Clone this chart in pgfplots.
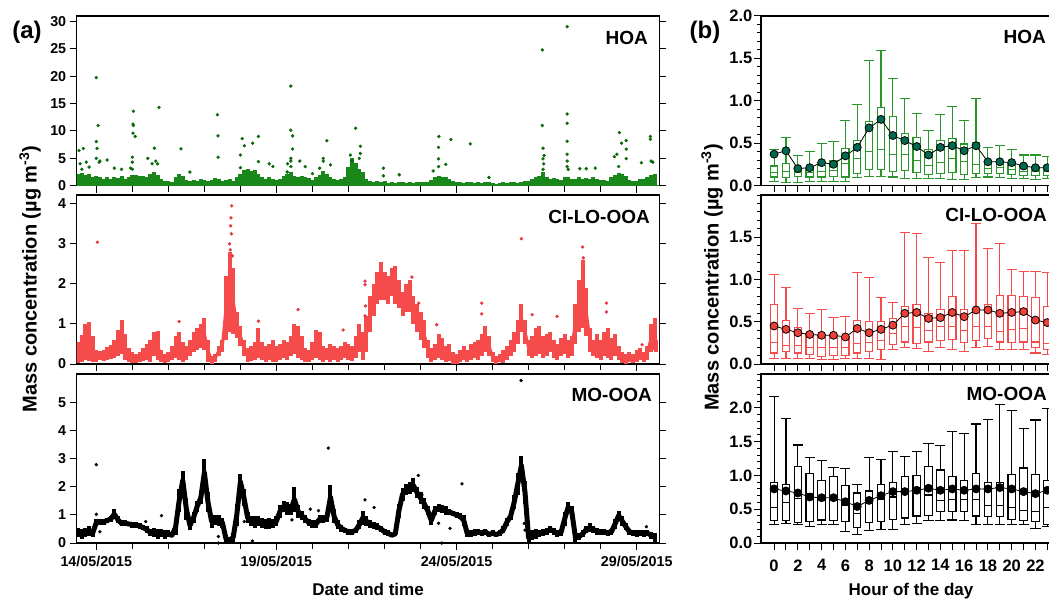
\documentclass[border=0pt]{standalone}
\usepackage{fontspec}
\setmainfont{Liberation Sans}
\usepackage{pgfplots}
\pgfplotsset{compat=1.18}
\usepackage{pgfplotstable}
\usepgfplotslibrary{statistics}

\definecolor{hoag}{RGB}{25,135,25}
\definecolor{hoadark}{RGB}{10,105,10}
\definecolor{cir}{RGB}{245,75,75}
\definecolor{cidark}{RGB}{230,55,70}
\definecolor{hoabox}{RGB}{40,150,40}
\definecolor{hoamean}{RGB}{0,105,80}
\definecolor{cimean}{RGB}{235,65,55}

\pgfplotstableread{
x lo hi
13.5 0.0 2.2
13.6 0.0 2.4
13.7 0.1 2.0
13.8 0.0 2.1
13.9 0.1 1.5
14.0 0.0 1.8
14.1 0.1 1.6
14.2 0.1 1.3
14.3 0.0 1.5
14.4 0.1 1.2
14.5 0.2 1.6
14.6 0.1 1.4
14.7 0.2 1.7
14.8 0.1 1.3
14.9 0.2 1.5
15.0 0.1 1.9
15.1 0.2 2.0
15.2 0.1 1.7
15.3 0.2 1.8
15.4 0.1 1.5
15.5 0.1 2.2
15.6 0.2 2.5
15.7 0.1 2.0
15.8 0.1 1.2
15.9 0.1 0.8
16.0 0.2 0.9
16.1 0.1 0.7
16.2 0.2 1.5
16.3 0.1 2.2
16.4 0.2 1.8
16.5 0.1 1.0
16.6 0.2 0.8
16.7 0.1 1.0
16.8 0.2 0.9
16.9 0.1 1.2
17.0 0.2 1.0
17.1 0.1 0.8
17.2 0.2 1.1
17.3 0.1 1.4
17.4 0.2 1.2
17.5 0.1 0.9
17.6 0.2 1.0
17.7 0.1 1.3
17.8 0.2 0.9
17.9 0.1 1.5
18.0 0.1 2.2
18.1 0.0 2.8
18.2 0.1 3.0
18.3 0.0 2.6
18.4 0.1 2.8
18.5 0.1 2.2
18.6 0.2 1.5
18.7 0.1 1.2
18.8 0.2 1.5
18.9 0.1 1.2
19.0 0.2 1.0
19.1 0.1 1.3
19.2 0.2 1.7
19.3 0.1 2.2
19.4 0.1 2.5
19.5 0.2 1.8
19.6 0.1 1.6
19.7 0.2 1.7
19.8 0.1 1.5
19.9 0.2 1.4
20.0 0.1 1.1
20.1 0.2 1.5
20.2 0.1 2.0
20.3 0.1 2.6
20.4 0.2 2.2
20.5 0.1 1.6
20.6 0.2 1.2
20.7 0.1 1.0
20.8 0.2 1.2
20.9 0.1 1.5
21.0 0.1 3.5
21.1 0.2 5.0
21.2 0.1 4.2
21.3 0.2 3.0
21.4 0.1 2.5
21.5 0.2 1.2
21.6 0.1 0.8
21.7 0.2 0.6
21.8 0.1 0.9
21.9 0.2 0.7
22.0 0.1 0.8
22.1 0.2 0.5
22.2 0.1 0.6
22.3 0.2 0.5
22.4 0.1 0.7
22.5 0.2 0.6
22.6 0.1 0.5
22.7 0.2 0.6
22.8 0.1 0.5
22.9 0.2 0.6
23.0 0.1 0.7
23.1 0.2 0.6
23.2 0.1 0.7
23.3 0.2 1.0
23.4 0.1 1.5
23.5 0.2 1.8
23.6 0.1 1.6
23.7 0.2 1.5
23.8 0.1 1.3
23.9 0.2 0.8
24.0 0.1 0.6
24.1 0.2 0.7
24.2 0.1 0.5
24.3 0.2 0.6
24.4 0.1 0.7
24.5 0.2 0.5
24.6 0.1 0.6
24.7 0.2 0.5
24.8 0.1 0.6
24.9 0.2 0.7
25.0 0.1 0.5
25.1 0.2 0.4
25.2 0.1 0.5
25.3 0.2 0.6
25.4 0.1 0.5
25.5 0.2 0.6
25.6 0.1 0.7
25.7 0.2 0.5
25.8 0.1 0.6
25.9 0.2 0.8
26.0 0.1 0.9
26.1 0.2 1.2
26.2 0.1 1.5
26.3 0.2 1.8
26.4 0.1 2.5
26.5 0.2 1.6
26.6 0.1 1.3
26.7 0.2 1.4
26.8 0.1 1.2
26.9 0.2 1.0
27.0 0.1 1.5
27.1 0.2 1.6
27.2 0.1 1.3
27.3 0.2 1.2
27.4 0.1 1.5
27.5 0.2 1.3
27.6 0.1 1.4
27.7 0.2 1.2
27.8 0.1 1.5
27.9 0.2 1.2
28.0 0.1 1.0
28.1 0.2 1.1
28.2 0.1 0.9
28.3 0.2 1.6
28.4 0.1 2.0
28.5 0.1 2.4
28.6 0.2 2.2
28.7 0.1 1.8
28.8 0.2 1.0
28.9 0.1 0.8
29.0 0.2 0.9
29.1 0.1 1.2
29.2 0.2 1.3
29.3 0.1 1.6
29.4 0.1 2.0
29.5 0.0 2.2
}\hoaTS

\pgfplotstableread{
x y
13.52 6.42
13.64 6.79
13.55 4.0
13.72 4.3
13.6 3.0
13.8 3.4
14.0 19.75
14.05 11.0
14.0 8.07
14.02 6.8
14.0 5.0
14.1 4.5
14.08 4.3
14.3 4.7
14.5 3.2
14.7 3.0
14.95 3.2
15.03 13.6
15.02 11.25
15.03 11.0
15.02 9.6
15.08 9.0
15.0 5.2
15.0 4.3
15.0 3.0
15.43 5.0
15.55 4.0
15.61 6.85
15.65 4.5
15.7 4.0
15.74 14.3
16.35 6.73
16.6 2.5
17.36 12.97
17.38 9.1
17.38 5.2
18.05 8.6
18.11 7.3
18.0 5.6
18.0 3.3
18.34 7.77
18.5 9.0
18.5 4.4
18.8 4.0
18.9 3.5
19.31 4.0
19.3 2.5
19.4 18.2
19.4 10.15
19.45 9.1
19.45 6.7
19.4 5.0
19.4 4.5
19.4 3.5
19.65 4.5
19.8 3.5
20.0 2.2
20.4 8.2
20.3 5.0
20.3 4.5
20.2 3.2
20.5 3.8
21.05 5.6
21.1 4.5
21.2 10.5
21.33 7.2
21.33 5.9
21.3 5.0
21.97 3.2
21.97 1.8
22.41 2.0
23.51 9.0
23.5 7.0
23.5 4.9
23.5 3.5
23.35 2.7
23.7 3.9
23.84 8.44
24.38 7.65
24.9 1.5
26.38 24.8
26.38 11.0
26.4 6.85
26.43 5.5
26.42 4.0
26.4 4.9
26.4 3.0
27.07 29.05
27.07 13.1
27.07 11.4
27.07 8.13
27.07 5.75
27.07 4.5
27.07 3.5
27.1 3.0
27.42 3.1
27.6 3.1
27.85 3.2
28.52 9.7
28.58 7.77
28.71 8.25
28.45 5.75
28.38 5.3
28.71 6.67
28.71 4.95
28.5 3.5
29.13 4.2
29.38 9.0
29.38 8.5
29.4 4.5
29.45 4.3
}\hoaOut

\pgfplotstableread{
x lo hi
13.5 0.02 0.55
13.6 0.05 0.72
13.7 0.10 1.00
13.8 0.08 1.05
13.9 0.05 0.70
14.0 0.05 0.35
14.1 0.10 0.32
14.2 0.08 0.35
14.3 0.10 0.42
14.4 0.12 0.48
14.5 0.15 0.60
14.6 0.20 0.85
14.7 0.25 1.10
14.8 0.10 0.75
14.9 0.05 0.40
15.0 0.03 0.30
15.1 0.02 0.25
15.2 0.05 0.30
15.3 0.08 0.40
15.4 0.10 0.50
15.5 0.05 0.60
15.6 0.20 0.80
15.7 0.10 0.82
15.8 0.05 0.35
15.9 0.02 0.25
16.0 0.05 0.30
16.1 0.10 0.45
16.2 0.15 0.70
16.3 0.10 0.80
16.4 0.05 0.55
16.5 0.10 0.45
16.6 0.20 0.60
16.7 0.30 0.80
16.8 0.35 0.90
16.9 0.40 1.00
17.0 0.35 1.15
17.1 0.05 0.60
17.2 0.00 0.20
17.3 0.05 0.25
17.4 0.20 0.45
17.5 0.30 0.60
17.6 0.60 2.20
17.7 0.80 2.80
17.8 0.75 2.40
17.9 0.65 1.30
18.0 0.45 0.95
18.1 0.20 0.60
18.2 0.05 0.40
18.3 0.08 0.45
18.4 0.10 0.55
18.5 0.15 0.90
18.6 0.10 0.55
18.7 0.05 0.45
18.8 0.10 0.50
18.9 0.05 0.60
19.0 0.05 0.45
19.1 0.10 0.50
19.2 0.15 0.60
19.3 0.10 0.55
19.4 0.20 0.70
19.5 0.25 1.00
19.6 0.15 0.95
19.7 0.10 0.70
19.8 0.05 0.40
19.9 0.05 0.35
20.0 0.10 0.55
20.1 0.15 0.85
20.2 0.10 0.80
20.3 0.05 0.45
20.4 0.10 0.40
20.5 0.05 0.50
20.6 0.10 0.45
20.7 0.05 0.40
20.8 0.10 0.45
20.9 0.15 0.55
21.0 0.10 0.50
21.1 0.08 0.45
21.2 0.15 0.70
21.3 0.30 1.00
21.4 0.10 0.80
21.5 0.30 1.20
21.6 0.80 1.70
21.7 1.20 2.00
21.8 1.50 2.30
21.9 1.60 2.55
22.0 1.60 2.30
22.1 1.50 2.20
22.2 1.70 2.40
22.3 1.50 2.45
22.4 1.40 2.10
22.5 1.20 1.80
22.6 1.30 2.00
22.7 1.30 2.10
22.8 1.00 1.70
22.9 0.80 1.50
23.0 0.60 1.30
23.1 0.40 1.10
23.2 0.15 0.60
23.3 0.05 0.40
23.4 0.10 0.50
23.5 0.15 0.75
23.6 0.10 0.65
23.7 0.05 0.45
23.8 0.08 0.50
23.9 0.00 0.30
24.0 0.00 0.25
24.1 0.05 0.35
24.2 0.10 0.45
24.3 0.05 0.35
24.4 0.10 0.50
24.5 0.15 0.55
24.6 0.10 0.60
24.7 0.20 0.75
24.8 0.30 0.95
24.9 0.20 0.70
25.0 0.05 0.30
25.1 0.00 0.20
25.2 0.05 0.25
25.3 0.02 0.35
25.4 0.10 0.45
25.5 0.20 0.60
25.6 0.30 0.80
25.7 0.50 1.10
25.8 0.80 1.50
25.9 0.50 1.10
26.0 0.20 0.60
26.1 0.15 0.70
26.2 0.20 0.90
26.3 0.25 0.95
26.4 0.15 0.70
26.5 0.20 0.75
26.6 0.30 0.80
26.7 0.15 0.60
26.8 0.10 0.50
26.9 0.20 0.65
27.0 0.25 0.75
27.1 0.15 0.60
27.2 0.20 0.70
27.3 0.50 1.50
27.4 0.80 2.10
27.5 0.90 2.60
27.6 0.70 1.90
27.7 0.30 0.90
27.8 0.20 0.60
27.9 0.15 0.75
28.0 0.10 0.60
28.1 0.20 0.80
28.2 0.15 0.90
28.3 0.10 0.65
28.4 0.20 0.75
28.5 0.10 0.45
28.6 0.02 0.30
28.7 0.00 0.25
28.8 0.05 0.30
28.9 0.02 0.25
29.0 0.05 0.35
29.1 0.10 0.40
29.2 0.05 0.30
29.3 0.10 0.45
29.4 0.30 1.00
29.5 0.35 1.15
29.55 0.30 0.60
}\ciTS

\pgfplotstableread{
x y
14.03 3.04
17.76 3.95
17.74 3.65
17.73 3.45
17.75 3.25
17.70 3.00
17.72 2.85
17.78 2.70
16.30 1.06
18.50 1.07
19.60 1.36
20.85 0.85
21.46 2.07
21.46 1.98
21.47 1.45
21.46 1.20
22.76 2.17
22.95 1.52
23.45 0.98
24.70 1.52
24.70 1.25
25.80 3.13
26.10 1.23
26.79 1.19
27.50 2.92
27.52 2.65
28.16 1.52
28.16 1.30
29.15 0.48
}\ciOut

\pgfplotstableread{
x lo hi
13.5 0.20 0.55
13.6 0.15 0.50
13.7 0.20 0.55
13.8 0.25 0.60
13.9 0.20 0.50
14.0 0.60 0.85
14.1 0.65 0.85
14.2 0.65 0.85
14.3 0.70 0.90
14.4 0.75 0.95
14.5 0.85 1.20
14.6 0.70 0.95
14.7 0.60 0.80
14.8 0.60 0.80
14.9 0.60 0.75
15.0 0.55 0.75
15.1 0.55 0.75
15.2 0.50 0.70
15.3 0.45 0.65
15.4 0.35 0.60
15.5 0.25 0.50
15.6 0.20 0.55
15.7 0.15 0.50
15.8 0.20 0.50
15.9 0.15 0.45
16.0 0.20 0.45
16.1 0.20 0.35
16.2 0.30 0.80
16.3 1.10 1.90
16.4 1.90 2.55
16.5 0.80 1.60
16.6 0.45 0.80
16.7 0.70 1.10
16.8 1.10 1.50
16.9 1.40 1.80
17.0 2.00 3.00
17.1 1.10 1.80
17.2 0.55 1.00
17.3 0.65 1.00
17.4 0.60 1.00
17.5 0.55 0.90
17.6 0.00 0.30
17.7 0.00 0.20
17.8 0.05 0.35
17.9 0.60 1.40
18.0 1.90 2.45
18.1 1.30 1.90
18.2 0.70 1.10
18.3 0.60 0.95
18.4 0.55 0.95
18.5 0.60 0.95
18.6 0.55 0.90
18.7 0.50 0.85
18.8 0.50 0.90
18.9 0.55 0.85
19.0 0.60 0.95
19.1 0.90 1.35
19.2 1.10 1.50
19.3 1.00 1.45
19.4 1.00 1.40
19.5 1.10 2.00
19.6 0.90 1.35
19.7 0.80 1.15
19.8 0.70 1.00
19.9 0.60 0.85
20.0 0.55 0.80
20.1 0.55 0.80
20.2 0.70 1.00
20.3 0.70 1.00
20.4 0.75 1.05
20.5 1.20 2.05
20.6 0.70 1.20
20.7 0.50 0.80
20.8 0.40 0.65
20.9 0.35 0.55
21.0 0.30 0.50
21.1 0.30 0.50
21.2 0.35 0.55
21.3 0.50 0.80
21.4 0.65 1.15
21.5 0.60 0.95
21.6 0.55 0.80
21.7 0.50 0.75
21.8 0.45 0.70
21.9 0.40 0.60
22.0 0.30 0.50
22.1 0.25 0.45
22.2 0.20 0.35
22.3 0.25 0.40
22.4 0.90 1.40
22.5 1.50 1.95
22.6 1.70 2.10
22.7 1.75 2.15
22.8 1.80 2.30
22.9 1.60 2.00
23.0 1.40 1.80
23.1 1.20 1.60
23.2 1.00 1.30
23.3 0.65 0.95
23.4 1.00 1.30
23.5 1.10 1.40
23.6 1.05 1.35
23.7 1.00 1.30
23.8 1.00 1.20
23.9 0.95 1.15
24.0 0.90 1.10
24.1 0.85 1.05
24.2 0.60 1.00
24.3 0.20 0.45
24.4 0.20 0.45
24.5 0.25 0.50
24.6 0.30 0.50
24.7 0.25 0.45
24.8 0.30 0.50
24.9 0.20 0.40
25.0 0.25 0.45
25.1 0.20 0.40
25.2 0.25 0.45
25.3 0.35 0.60
25.4 0.60 0.90
25.5 0.80 1.10
25.6 1.20 1.70
25.7 1.70 2.50
25.8 2.40 3.10
25.9 1.40 2.20
26.0 0.05 0.30
26.1 0.10 0.45
26.2 0.15 0.50
26.3 0.20 0.45
26.4 0.25 0.50
26.5 0.30 0.55
26.6 0.35 0.60
26.7 0.30 0.55
26.8 0.20 0.45
26.9 0.25 0.50
27.0 0.60 1.10
27.1 1.10 1.45
27.2 0.90 1.30
27.3 0.05 0.35
27.4 0.10 0.35
27.5 0.20 0.45
27.6 0.35 0.60
27.7 0.40 0.70
27.8 0.35 0.60
27.9 0.30 0.55
28.0 0.30 0.50
28.1 0.30 0.50
28.2 0.25 0.45
28.3 0.30 0.50
28.4 0.50 0.85
28.5 0.80 1.15
28.6 0.60 0.95
28.7 0.45 0.70
28.8 0.30 0.50
28.9 0.25 0.45
29.0 0.20 0.45
29.1 0.25 0.45
29.2 0.20 0.45
29.3 0.25 0.45
29.4 0.15 0.40
29.5 0.05 0.35
}\moTS

\pgfplotstableread{
x y
14.00 2.78
14.00 1.02
14.10 0.40
15.37 0.76
15.81 0.97
17.39 0.23
17.39 0.00
18.11 0.76
18.33 0.07
19.43 0.82
19.70 0.94
19.94 1.20
20.17 1.15
20.44 3.37
21.46 1.53
21.71 1.26
22.94 2.40
23.04 1.71
23.50 0.70
23.59 0.00
23.82 0.52
24.15 2.10
25.79 5.77
25.88 0.70
25.90 0.46
27.25 0.62
29.27 0.58
}\moOut

\pgfplotstableread{
h lw q1 med q3 uw mean
0 0.05 0.10 0.15 0.23 0.43 0.37
1 0.04 0.09 0.16 0.26 0.57 0.41
2 0.04 0.11 0.15 0.20 0.35 0.20
3 0.05 0.10 0.15 0.20 0.40 0.21
4 0.05 0.10 0.16 0.24 0.50 0.27
5 0.05 0.11 0.18 0.30 0.52 0.25
6 0.05 0.10 0.26 0.44 0.77 0.35
7 0.09 0.14 0.32 0.53 0.96 0.45
8 0.11 0.19 0.40 0.75 1.47 0.68
9 0.11 0.19 0.42 0.92 1.59 0.78
10 0.10 0.16 0.37 0.81 1.26 0.59
11 0.08 0.18 0.37 0.61 1.03 0.53
12 0.08 0.15 0.30 0.57 0.85 0.46
13 0.08 0.13 0.24 0.43 0.65 0.36
14 0.08 0.14 0.27 0.53 0.84 0.45
15 0.07 0.15 0.32 0.55 0.93 0.47
16 0.07 0.13 0.28 0.49 0.77 0.41
17 0.09 0.14 0.25 0.51 1.03 0.47
18 0.10 0.14 0.20 0.26 0.45 0.28
19 0.09 0.14 0.21 0.27 0.47 0.28
20 0.08 0.13 0.19 0.26 0.43 0.27
21 0.08 0.12 0.17 0.22 0.36 0.23
22 0.07 0.12 0.17 0.22 0.36 0.21
23 0.08 0.12 0.16 0.24 0.34 0.21
}\hoaD

\pgfplotstableread{
h lw q1 med q3 uw mean
0 0.06 0.13 0.25 0.70 1.06 0.45
1 0.07 0.15 0.22 0.51 0.91 0.41
2 0.07 0.13 0.22 0.43 0.66 0.37
3 0.06 0.11 0.20 0.36 0.60 0.35
4 0.05 0.09 0.19 0.35 0.65 0.34
5 0.05 0.10 0.19 0.34 0.55 0.34
6 0.06 0.10 0.19 0.32 0.56 0.32
7 0.07 0.13 0.24 0.52 1.08 0.42
8 0.07 0.15 0.25 0.50 1.02 0.37
9 0.05 0.17 0.28 0.50 0.79 0.41
10 0.17 0.23 0.36 0.54 0.73 0.46
11 0.19 0.26 0.44 0.68 1.56 0.60
12 0.18 0.24 0.43 0.70 1.54 0.61
13 0.15 0.26 0.40 0.60 1.26 0.54
14 0.19 0.28 0.44 0.64 1.20 0.55
15 0.17 0.29 0.44 0.80 1.34 0.61
16 0.15 0.25 0.40 0.64 1.34 0.56
17 0.20 0.28 0.44 0.66 1.66 0.64
18 0.21 0.30 0.44 0.70 1.37 0.64
19 0.17 0.26 0.38 0.81 1.43 0.60
20 0.17 0.25 0.41 0.81 1.12 0.61
21 0.17 0.26 0.42 0.80 1.09 0.62
22 0.13 0.20 0.26 0.79 1.10 0.52
23 0.11 0.17 0.24 0.68 1.08 0.49
}\ciD

\pgfplotstableread{
h lw q1 med q3 uw mean
0 0.28 0.33 0.53 0.90 2.17 0.80
1 0.29 0.33 0.60 0.87 1.84 0.77
2 0.27 0.30 0.66 1.13 1.45 0.74
3 0.24 0.32 0.73 1.03 1.26 0.68
4 0.28 0.34 0.69 0.93 1.22 0.67
5 0.27 0.33 0.65 0.98 1.12 0.67
6 0.17 0.32 0.55 0.85 1.10 0.61
7 0.13 0.23 0.44 0.74 0.86 0.54
8 0.19 0.30 0.59 0.77 1.27 0.63
9 0.20 0.32 0.64 0.86 1.23 0.70
10 0.20 0.35 0.68 0.90 1.36 0.76
11 0.27 0.37 0.73 0.98 1.28 0.76
12 0.29 0.40 0.78 1.00 1.36 0.78
13 0.33 0.41 0.71 1.13 1.47 0.81
14 0.33 0.46 0.63 1.08 1.44 0.78
15 0.34 0.46 0.65 0.98 1.65 0.80
16 0.33 0.47 0.64 0.92 1.62 0.78
17 0.28 0.40 0.65 1.03 1.76 0.80
18 0.27 0.39 0.55 0.90 1.83 0.80
19 0.28 0.39 0.55 0.90 2.05 0.82
20 0.28 0.35 0.52 1.01 1.96 0.80
21 0.28 0.33 0.48 1.11 1.70 0.76
22 0.22 0.32 0.46 1.02 1.82 0.73
23 0.24 0.28 0.52 0.92 1.99 0.78
}\moD

\pgfplotsset{
  common/.style={scale only axis, axis line style={line width=1.1pt},
    tick style={black, line width=1pt}, tick align=outside, xtick pos=left},
  tsax/.style={common, width=582.6pt, xmin=13.456, xmax=29.628,
    xtick={14,19,24,29}, minor x tick num=4, ytick pos=both, yticklabel pos=left,
    major tick length=7pt, minor tick length=6pt,
    tick label style={font=\fontsize{14.3}{16}\selectfont\bfseries},
    xticklabel style={yshift=-3pt},
    xticklabels={}},
  hrax/.style={common, width=298.2pt, xmin=-1.1, xmax=24,
    xtick={0,...,23}, xticklabels={}, ytick pos=left,
    major tick length=7pt, minor tick length=4pt,
    tick label style={font=\fontsize{16.5}{18}\selectfont\bfseries},
    xticklabel style={yshift=-6pt},
    yticklabel style={inner sep=1.5pt}},
  bx/.style={line width=1.1pt, boxplot/draw direction=y,
    boxplot/box extend=0.62, boxplot/whisker extend=0.85},
  band/.style={#1, draw=none, mark=none, error bars/.cd, y dir=both, y explicit,
    error mark=none, error bar style={line width=4pt, draw=#1}},
}

\newcommand\boxes[2]{%
  \pgfplotsinvokeforeach{0,...,23}{%
    \pgfplotstablegetelem{##1}{lw}\of{#1}\edef\bLW{\pgfplotsretval}%
    \pgfplotstablegetelem{##1}{q1}\of{#1}\edef\bQA{\pgfplotsretval}%
    \pgfplotstablegetelem{##1}{med}\of{#1}\edef\bMD{\pgfplotsretval}%
    \pgfplotstablegetelem{##1}{q3}\of{#1}\edef\bQB{\pgfplotsretval}%
    \pgfplotstablegetelem{##1}{uw}\of{#1}\edef\bUW{\pgfplotsretval}%
    \edef\bCmd{\noexpand\addplot[#2, bx,
      boxplot/every box/.style={draw=#2},
      boxplot/every whisker/.style={draw=#2},
      boxplot/every median/.style={draw=#2},
      boxplot prepared={draw position=##1,
      lower whisker=\bLW, lower quartile=\bQA, median=\bMD,
      upper quartile=\bQB, upper whisker=\bUW}] coordinates {};}%
    \bCmd
  }%
}

\begin{document}
\begin{tikzpicture}

% ---------- (a) HOA
\begin{axis}[tsax, at={(76.7pt,412.3pt)}, anchor=south west, height=169.7pt,
  ymin=0, ymax=31, ytick={0,5,...,30}, yticklabels={0,5,10,15,20,25,30}]
\addplot[band=hoag] table[x=x, y expr={(\thisrow{lo}+\thisrow{hi})/2},
  y error expr={(\thisrow{hi}-\thisrow{lo})/2}]{\hoaTS};
\addplot[hoag, line width=1.4pt] coordinates {(13.3,0) (29.8,0)};
\addplot[only marks, mark=*, mark size=1.5pt, hoadark] table[x=x,y=y]{\hoaOut};
\end{axis}

% ---------- (a) CI-LO-OOA
\begin{axis}[tsax, at={(76.7pt,234pt)}, anchor=south west, height=169pt,
  ymin=0, ymax=4.22, ytick={0,1,2,3,4}, yticklabels={0,1,2,3,4}]
\addplot[band=cir] table[x=x, y expr={(\thisrow{lo}+\thisrow{hi})/2},
  y error expr={(\thisrow{hi}-\thisrow{lo})/2}]{\ciTS};
\addplot[cir, line width=3pt] table[x=x, y expr={(\thisrow{lo}+\thisrow{hi})/2}]{\ciTS};
\addplot[only marks, mark=*, mark size=1.5pt, cidark] table[x=x,y=y]{\ciOut};
\end{axis}

% ---------- (a) MO-OOA
\begin{axis}[tsax, at={(76.7pt,55pt)}, anchor=south west, height=169pt,
  ymin=0, ymax=6, ytick={0,1,2,3,4,5}, yticklabels={0,1,2,3,4,5},
  xticklabels={14/05/2015,19/05/2015,24/05/2015,29/05/2015}]
\addplot[band=black] table[x=x, y expr={(\thisrow{lo}+\thisrow{hi})/2},
  y error expr={(\thisrow{hi}-\thisrow{lo})/2}]{\moTS};
\addplot[black, line width=5pt, line join=round] table[x=x, y expr={(\thisrow{lo}+\thisrow{hi})/2}]{\moTS};
\addplot[only marks, mark=*, mark size=1.5pt, black] table[x=x,y=y]{\moOut};
\end{axis}

% ---------- (b) HOA
\begin{axis}[hrax, at={(761pt,412.5pt)}, anchor=south west, height=169.5pt,
  ymin=0, ymax=2, ytick={0,0.5,1,1.5,2}, yticklabels={0.0,0.5,1.0,1.5,2.0},
  minor ytick={0,0.1,...,2.0}]
\boxes{\hoaD}{hoabox}
\addplot[black, line width=0.8pt, mark=*, mark size=4pt,
  mark options={fill=hoamean, draw=black, line width=0.8pt}] table[x=h,y=mean]{\hoaD};
\end{axis}

% ---------- (b) CI-LO-OOA
\begin{axis}[hrax, at={(761pt,234pt)}, anchor=south west, height=169pt,
  ymin=0, ymax=2, ytick={0,0.5,1,1.5}, yticklabels={0.0,0.5,1.0,1.5},
  minor ytick={0,0.1,...,2.0}]
\boxes{\ciD}{cir}
\addplot[black, line width=0.8pt, mark=*, mark size=4pt,
  mark options={fill=cimean, draw=black, line width=0.8pt}] table[x=h,y=mean]{\ciD};
\end{axis}

% ---------- (b) MO-OOA
\begin{axis}[hrax, at={(761pt,55pt)}, anchor=south west, height=169pt,
  ymin=0, ymax=2.5, ytick={0,0.5,1,1.5,2}, yticklabels={0.0,0.5,1.0,1.5,2.0},
  minor ytick={0,0.1,...,2.5},
  xticklabels={0,,2,,4,,6,,8,,10,,12,,14,,16,,18,,20,,22,}]
\boxes{\moD}{black}
\addplot[black, line width=0.8pt, mark=*, mark size=4pt,
  mark options={fill=black, draw=black}] table[x=h,y=mean]{\moD};
\end{axis}

% ---------- texts
\node[font=\fontsize{24}{26}\selectfont\bfseries] at (27pt,566pt) {(a)};
\node[font=\fontsize{24}{26}\selectfont\bfseries] at (705pt,566pt) {(b)};
\begin{scope}[every node/.style={inner sep=0pt, font=\fontsize{19}{21}\selectfont\bfseries}]
\node[anchor=east] at (648pt,560pt) {HOA};
\node[anchor=east] at (650pt,381pt) {CI-LO-OOA};
\node[anchor=east] at (652pt,203pt) {MO-OOA};
\node[anchor=east] at (1046pt,561pt) {HOA};
\node[anchor=east] at (1047pt,383.5pt) {CI-LO-OOA};
\node[anchor=east] at (1047pt,204.5pt) {MO-OOA};
\end{scope}
\node[rotate=90, font=\fontsize{20}{22}\selectfont\bfseries] at (30pt,319pt)
  {Mass concentration (µg m\textsuperscript{-3})};
\node[rotate=90, font=\fontsize{20}{22}\selectfont\bfseries] at (712pt,320.5pt)
  {Mass concentration (µg m\textsuperscript{-3})};
\node[anchor=base, font=\fontsize{17}{19}\selectfont\bfseries] at (368pt,3pt) {Date and time};
\node[anchor=base, font=\fontsize{17}{19}\selectfont\bfseries] at (911pt,3pt) {Hour of the day};
\pgfresetboundingbox
\useasboundingbox (0,0) rectangle (1049pt,598pt);
\end{tikzpicture}
\end{document}
